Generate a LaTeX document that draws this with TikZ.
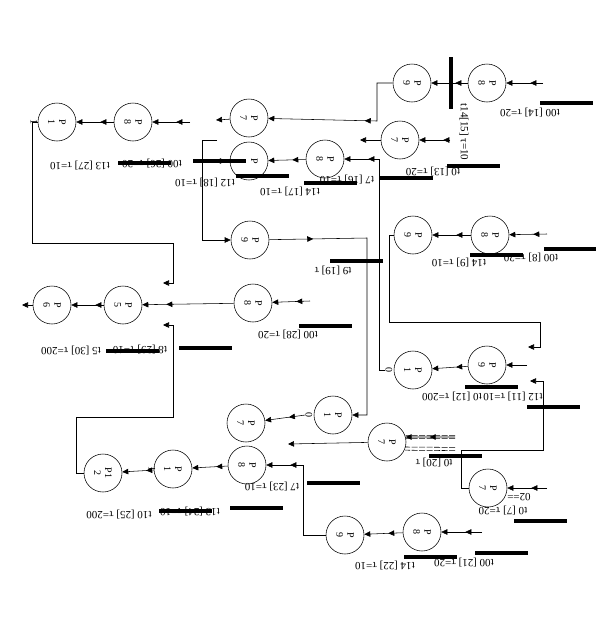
\documentclass[tikz,border=0pt]{standalone}
\usepackage{fontspec}
\setmainfont{Liberation Serif}
\usetikzlibrary{arrows.meta, decorations.markings}

\begin{document}
\begin{tikzpicture}[
  x=1pt, y=-1pt, line width=0.55pt,
  >={Triangle[length=6pt, width=5.5pt]},
  place/.style={circle, draw, minimum size=38pt, inner sep=0pt},
  tag/.style={rotate=-90, align=center, inner sep=0pt,
    font=\fontsize{10}{11}\selectfont},
  pl/.style={place, label={[tag]center:#1}},
  lab/.style={rotate=180, inner sep=0pt, font=\fontsize{11}{13}\selectfont},
  bar/.style={fill=black, minimum width=53pt, minimum height=4.5pt, inner sep=0pt},
  vbar/.style={fill=black, minimum width=4.5pt, minimum height=52pt, inner sep=0pt},
  link/.style={draw, ->},
  tipat/.style={postaction={decorate, decoration={markings,
    mark=at position #1 with {\arrow{>}}}}},
  flow/.style={link, tipat=-24pt},
  dbl/.style={
    postaction={draw, dash pattern=on 6pt off 1.5pt, transform canvas={yshift=1.6pt}},
    postaction={draw, dash pattern=on 6pt off 1.5pt, transform canvas={yshift=-1.6pt}}},
]
\useasboundingbox (0,0) rectangle (596,633);

% Places (circle labels turned a quarter, drawing itself upside down)
\node[pl={P\\8}] (pc8) at (487,83) {};
\node[pl={P\\9}] (pc9) at (412,83) {};
\node[pl={P\\7}] (pb7) at (400,140) {};
\node[pl={P\\8}] (pb8) at (325,159) {};
\node[pl={P\\~}] (pbx) at (249,161) {};
\node[pl={P\\7}] (pa7) at (249,118) {};
\node[pl={P\\8}] (pa8) at (133,122) {};
\node[pl={P\\1}] (pa1) at (57,122) {};
\node[tag] (pa1x) at ([xshift=-23pt]pa1.center) {1};
\node[pl={P\\9}] (pd9) at (250,240) {};
\node[pl={P\\8}] (pe8) at (490,235) {};
\node[pl={P\\9}] (pe9) at (413,235) {};
\node[pl={P\\8}] (pf8) at (253,303) {};
\node[pl={P\\5}] (pf5) at (123,305) {};
\node[pl={P\\6}] (pf6) at (52,305) {};
\node[pl={P\\9}] (pg9) at (487,365) {};
\node[pl={P\\1}] (pg10) at (413,370) {};
\node[tag] (pg10x) at ([xshift=-24pt]pg10.center) {0};
\node[pl={P\\1}] (ph10) at (333,415) {};
\node[tag] (ph10x) at ([xshift=-24pt]ph10.center) {0};
\node[pl={P\\7}] (ph7) at (246,423) {};
\node[pl={P\\7}] (pi7) at (387,442) {};
\node[pl={P\\7}] (pl7) at (488,488) {};
\node[pl={P\\8}] (pj8) at (247,465) {};
\node[pl={P\\1}] (pj11) at (173,469) {};
\node[tag] (pj11x) at ([xshift=-21pt]pj11.center) {1};
\node[pl={P1\\2}] (pj12) at (103,473) {};
\node[pl={P\\8}] (pk8) at (422,532) {};
\node[pl={P\\9}] (pk9) at (345,535) {};

% Loose ends
\coordinate (i1) at (543,83);
\coordinate (i2) at (450,140);
\coordinate (i3) at (547,234);
\coordinate (i4) at (190,122);
\coordinate (i5) at (310,301);
\coordinate (i6) at (527,365);
\coordinate (i7) at (547,488);
\coordinate (i8) at (482,532);
\coordinate (i9) at (455,437);
\coordinate (i10) at (455,449);
\coordinate (i11) at (217,140);
\coordinate (o1) at (216,120);
\coordinate (o2) at (360,140);
\coordinate (o3) at (215,161);
\coordinate (o4) at (22,305);
\coordinate (o5) at (163,283);
\coordinate (o6) at (163,325);
\coordinate (o7) at (528,347);
\coordinate (o8) at (530,381);
\coordinate (o9) at (288,444);

% Arcs
\draw[flow] (i1) -- (pc8);
\draw[flow] (pc8) -- (pc9);
\draw[link, tipat=66pt] (pc9) -| (377,121) -- (pa7);
\draw[link] (pa7) -- (o1);
\draw[flow] (i4) -- (pa8);
\draw[flow] (pa8) -- (pa1);
\draw[link] (pa1) -| (32,243) -| (173,283) -- (o5);
\draw[flow] (i2) -- (pb7);
\draw[link] (pb7) -- (o2);
\draw[flow] (pg10x.south) -- (379,370) |- (pb8);
\draw[flow] (pb8) -- (pbx);
\draw[link] (pbx) -- (o3);
\draw[link] (i11) -| (202,240) -- (pd9);
\draw[link, tipat=44pt] (pd9) -- (367,238) |- (ph10);
\draw[flow] (i3) -- (pe8);
\draw[flow] (pe8) -- (pe9);
\draw[link] (pe9) -| (389,322) -| (540,347) -- (o7);
\draw[flow] (i5) -- (pf8);
\draw[flow] (pf8) -- (pf5);
\draw[flow] (pf5) -- (pf6);
\draw[link] (pf6) -- (o4);
\draw[link] (pj12) -| (76,417) -| (173,325) -- (o6);
\draw[link] (i6) -- (pg9);
\draw[flow] (pg9) -- (pg10);
\draw[link] (pl7) -| (461,450) -| (543,381) -- (o8);
\draw[flow] (i7) -- (pl7);
\path[dbl] (i9) -- (pi7.15);
\draw[flow] (i9) -- (pi7.15);
\path[dbl] (i10) -- (pi7.-20);
\draw[link] (pi7) -- (o9);
\draw[flow] (ph10x.south) -- (ph7);
\draw[flow] (pk9) -| (303,465) -- (pj8);
\draw[flow] (i8) -- (pk8);
\draw[flow] (pk8) -- (pk9);
\draw[flow] (pj8) -- (pj11);
\draw[flow] (pj11) -- (pj12);

% Transition bars
\node[bar] (b1) at (566,103) {};
\node[vbar] (b2) at (451,83) {};
\node[bar] (b3) at (473,166) {};
\node[bar] (b4) at (406,178) {};
\node[bar] (b5) at (330,183) {};
\node[bar] (b6) at (262,176) {};
\node[bar] (b7) at (219,161) {};
\node[bar] (b8) at (144,163) {};
\node[bar] (b9) at (570,249) {};
\node[bar] (b10) at (496,255) {};
\node[bar] (b11) at (356,261) {};
\node[bar] (b12) at (325,326) {};
\node[bar] (b13) at (205,348) {};
\node[bar] (b14) at (132,351) {};
\node[bar] (b15) at (553,407) {};
\node[bar] (b16) at (491,387) {};
\node[bar] (b17) at (455,456) {};
\node[bar] (b18) at (540,521) {};
\node[bar] (b19) at (333,483) {};
\node[bar] (b20) at (256,508) {};
\node[bar] (b21) at (185,511) {};
\node[bar] (b22) at (501,553) {};
\node[bar] (b23) at (430,557) {};

% Transition labels
\node[lab] (l1) at (530,113) {t00 [14] τ=20};
\node[lab, rotate=90] (l2) at (464,132) {t14[15] τ=10};
\node[lab] (l3) at (433,172) {t0 [13] τ=20};
\node[lab] (l4) at (347,180) {t7 [16] τ=10};
\node[lab] (l5) at (290,192) {t14 [17] τ=10};
\node[lab] (l6) at (205,183) {t12 [18] τ=10};
\node[lab] (l7) at (152,164) {t00 [26] τ=20};
\node[lab] (l8) at (80,166) {t13 [27] τ=10};
\node[lab] (l9) at (531,258) {t00 [8] τ=20};
\node[lab] (l10) at (459,263) {t14 [9] τ=10};
\node[lab] (l11) at (333,271) {t9 [19] τ};
\node[lab] (l12) at (288,335) {t00 [28] τ=20};
\node[lab] (l13) at (140,350) {t8 [29] τ=10};
\node[lab] (l14) at (71,351) {t5 [30] τ=200};
\node[lab] (l15) at (513,397) {t12 [11] τ=10};
\node[lab] (l16) at (452,397) {t0 [12] τ=200};
\node[lab] (l17) at (434,463) {t0 [20] τ};
\node[lab] (l18) at (503,511) {t0 [7] τ=20};
\node[lab] (l19) at (519,497) {02==};
\node[lab] (l20) at (272,487) {t7 [23] τ=10};
\node[lab] (l21) at (190,512) {t13 [24] τ=10};
\node[lab] (l22) at (119,515) {t10 [25] τ=200};
\node[lab] (l23) at (464,563) {t00 [21] τ=20};
\node[lab] (l24) at (385,566) {t14 [22] τ=10};

\end{tikzpicture}
\end{document}
